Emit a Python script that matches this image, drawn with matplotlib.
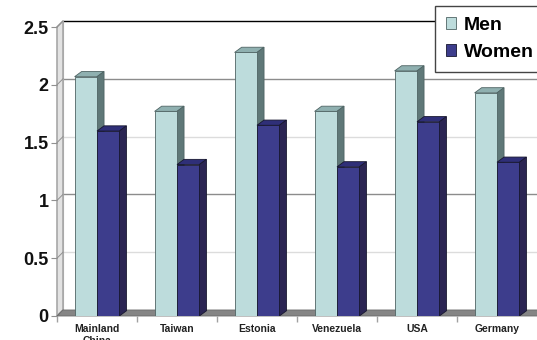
import matplotlib
matplotlib.use("Agg")
import matplotlib.pyplot as plt
from matplotlib.patches import Polygon, Patch

categories = ["Mainland\nChina", "Taiwan", "Estonia", "Venezuela", "USA", "Germany"]
men = [2.07, 1.77, 2.28, 1.77, 2.12, 1.93]
women = [1.60, 1.31, 1.65, 1.29, 1.68, 1.33]
series_names = ["Men", "Women"]
yticks = [0, 0.5, 1, 1.5, 2, 2.5]

# face / top / side / edge colours per series
MEN = ("#bddcdc", "#8fb0b0", "#5f7878", "#4f6464")
WOMEN = ("#3d3d8c", "#2f2f78", "#2b2553", "#17172f")

plt.rcParams["font.family"] = ["Liberation Sans", "DejaVu Sans"]

fig = plt.figure(figsize=(5.37, 3.40), dpi=100)
ax = fig.add_axes([57 / 537, 24 / 340, 480 / 537, 289 / 340])
n = len(categories)
ax.set_xlim(-0.5, n - 0.5)
ax.set_ylim(0, 2.5)
for s in ax.spines.values():
    s.set_visible(False)

# fake 3d depth (data units)
wdx, wdy = 0.075, 0.052
bdx, bdy = 0.088, 0.045
width = 0.28
x_left, x_right = -0.5, n - 0.5

# back wall grid lines
for v in yticks[1:-1]:
    col = "#8c8c8c" if v % 1 == 0 else "#dcdcdc"
    ax.plot([x_left + wdx, x_right + wdx], [v + wdy] * 2, color=col, lw=1,
            zorder=1, clip_on=False)
ax.plot([x_left + wdx, x_right + wdx], [yticks[-1] + wdy] * 2, color="black",
        lw=1, zorder=1, clip_on=False)
ax.plot([x_left + wdx] * 2, [wdy, yticks[-1] + wdy], color="#b0b0b0", lw=0.8,
        zorder=1, clip_on=False)

# left wall
ax.add_patch(Polygon([(x_left, 0), (x_left, yticks[-1]),
                      (x_left + wdx, yticks[-1] + wdy), (x_left + wdx, wdy)],
                     closed=True, fc="#e2e2e2", ec="#a8a8a8", lw=1.2,
                     zorder=1.2, clip_on=False))
for v in yticks:
    ax.plot([x_left, x_left + wdx], [v, v + wdy], color="#909090", lw=0.7,
            zorder=1.3, clip_on=False)

# floor
ax.add_patch(Polygon([(x_left, 0), (x_right, 0), (x_right + wdx, wdy),
                      (x_left + wdx, wdy)], closed=True, fc="#858585",
                     ec="#6a6a6a", lw=0.6, zorder=1.5, clip_on=False))


def draw_series(values, offset, colors, z):
    face, top, side, edge = colors
    xs = [i + offset for i in range(n)]
    bars = ax.bar(xs, values, width, align="edge", color=face,
                  edgecolor=edge, linewidth=0.6, zorder=z + 0.2)
    for x0, v in zip(xs, values):
        ax.add_patch(Polygon([(x0, v), (x0 + width, v),
                              (x0 + width + bdx, v + bdy), (x0 + bdx, v + bdy)],
                             closed=True, fc=top, ec=edge, lw=0.6, zorder=z))
        ax.add_patch(Polygon([(x0 + width, 0), (x0 + width + bdx, bdy),
                              (x0 + width + bdx, v + bdy), (x0 + width, v)],
                             closed=True, fc=side, ec=edge, lw=0.6, zorder=z))
    return bars


draw_series(men, -width, MEN, 3)
draw_series(women, 0, WOMEN, 4)

# axes ticks
ax.set_xticks(range(n))
ax.set_xticklabels(categories, fontsize=7.5, fontweight="bold", color="#222222")
ax.tick_params(axis="x", which="major", length=0, pad=6)
ax.set_xticks([i - 0.5 for i in range(n)], minor=True)
ax.tick_params(axis="x", which="minor", length=4, color="#a0a0a0", width=1)

ax.set_yticks(yticks)
ax.set_yticklabels([f"{v:g}" for v in yticks], fontsize=13,
                   fontweight="bold", color="#111111")
ax.tick_params(axis="y", length=4, color="#909090", pad=2)

handles = [Patch(fc=MEN[0], ec=MEN[3], lw=0.6),
           Patch(fc=WOMEN[0], ec=WOMEN[3], lw=0.6)]
leg = ax.legend(handles, series_names, loc="upper left",
                bbox_to_anchor=(435 / 537, 1 - 6 / 340),
                bbox_transform=fig.transFigure, borderaxespad=0,
                prop=dict(weight="bold", size=14), fancybox=False,
                edgecolor="#444444", framealpha=1, handlelength=0.55,
                handleheight=0.55, handletextpad=0.4, borderpad=0.55,
                labelspacing=0.52)
leg.set_zorder(6)
leg.get_frame().set_linewidth(1)

fig.savefig("out.png", dpi=100)
